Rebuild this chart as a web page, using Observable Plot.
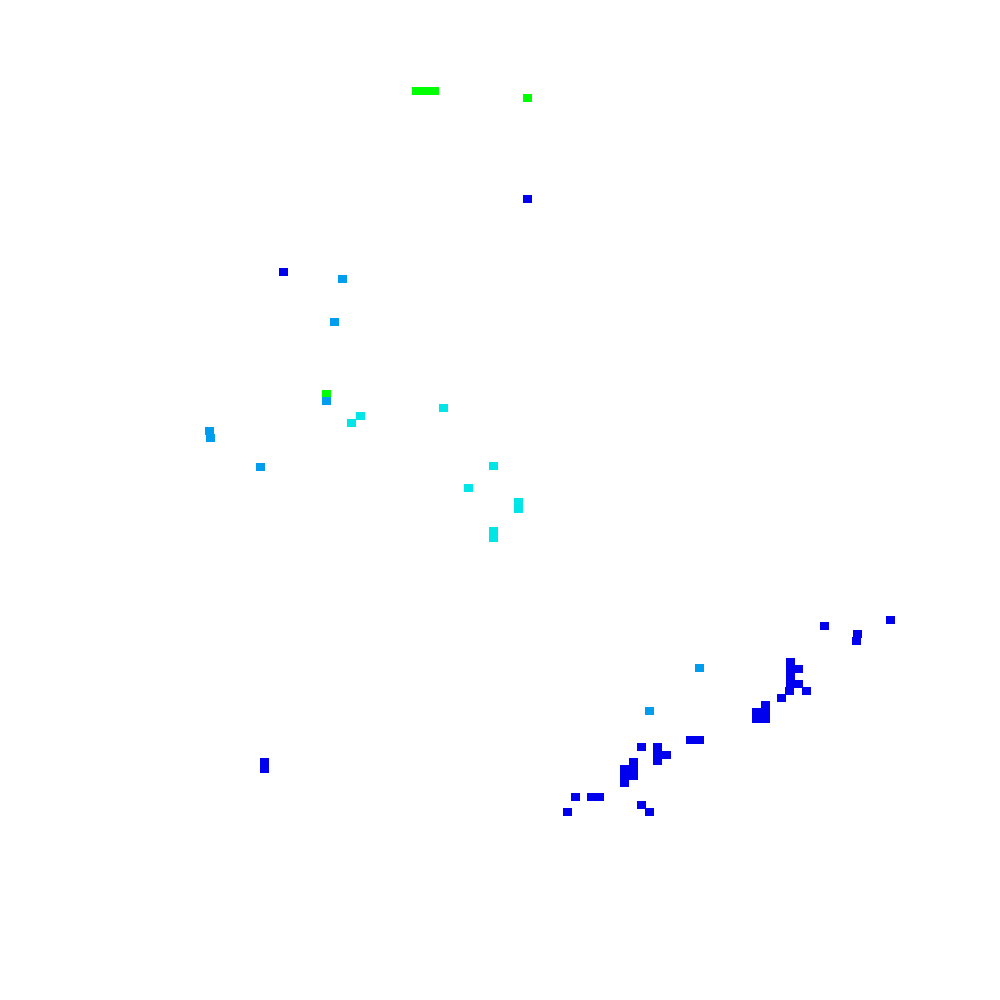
<!DOCTYPE html>
<html>
<head>
<meta charset="utf-8">
<script src="https://cdn.jsdelivr.net/npm/d3@7"></script>
<script src="https://cdn.jsdelivr.net/npm/@observablehq/plot@0.6"></script>
<style>
  html, body { margin: 0; padding: 0; background: #fff; }
</style>
</head>
<body>
<div id="chart"></div>
<script>
// Cell positions (column / row in chart units) and level of each cell
const levels = ["low", "mid-low", "mid-high", "high"];
const levelColors = ["#0000ee", "#009cee", "#00e6e6", "#00ff00"];

const cellX = [
  412, 421, 430, 523, 322,
  523, 279, 886, 820, 853, 852, 786, 786, 794, 786, 786, 794, 785, 802, 777,
  761, 752, 761, 752, 761, 686, 695, 637, 653, 653, 662, 653, 629, 629, 620,
  629, 620, 620, 571, 587, 595, 563, 637, 645, 260, 260,
  338, 330, 322, 205, 206, 256, 695, 645,
  356, 347, 439, 489, 464, 514, 514, 489, 489
];
const cellY = [
  87, 87, 87, 94, 390,
  195, 268, 616, 622, 630, 637, 658, 665, 665, 672, 680, 680, 687, 687, 694,
  701, 708, 708, 715, 715, 736, 736, 743, 743, 750, 751, 757, 758, 765, 765,
  772, 772, 779, 793, 793, 793, 808, 801, 808, 758, 765,
  275, 318, 397, 427, 434, 463, 664, 707,
  412, 419, 404, 462, 484, 498, 505, 527, 534
];
const cellLevel = [
  "high", "high", "high", "high", "high",
  "low", "low", "low", "low", "low", "low", "low", "low", "low", "low", "low", "low", "low", "low", "low",
  "low", "low", "low", "low", "low", "low", "low", "low", "low", "low", "low", "low", "low", "low", "low",
  "low", "low", "low", "low", "low", "low", "low", "low", "low", "low", "low",
  "mid-low", "mid-low", "mid-low", "mid-low", "mid-low", "mid-low", "mid-low", "mid-low",
  "mid-high", "mid-high", "mid-high", "mid-high", "mid-high", "mid-high", "mid-high", "mid-high", "mid-high"
];

const cells = cellX.map((x, i) => ({x, y: cellY[i], level: cellLevel[i]}));

const cw = 8.5, ch = 7.5;

const chart = Plot.plot({
  width: 1000,
  height: 1000,
  margin: 0,
  x: {domain: [0, 1000], range: [0, 1000], axis: null},
  y: {domain: [0, 1000], range: [0, 1000], axis: null},
  color: {domain: levels, range: levelColors},
  marks: [
    Plot.rect(cells, {
      x1: "x",
      x2: d => d.x + cw,
      y1: "y",
      y2: d => d.y + ch,
      inset: 0,
      fill: "level",
      shapeRendering: "crispEdges"
    })
  ]
});

document.getElementById("chart").appendChild(chart);
</script>
</body>
</html>
